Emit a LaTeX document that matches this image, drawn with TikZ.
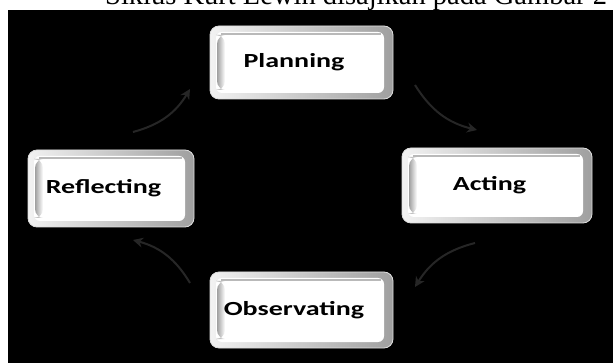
\documentclass[tikz,border=0pt]{standalone}
\usepackage{fontspec}
\setmainfont{Liberation Serif}
\newfontfamily\boxfont[FakeStretch=1.4]{Carlito}
\usetikzlibrary{arrows.meta}
\tikzset{
  btn/.style={rectangle, rounded corners=9pt, draw=gray!25, line width=0.8pt,
    left color=gray!10, right color=gray!75, inner sep=0pt,
    font=\boxfont\bfseries\fontsize{20}{24}\selectfont, text=black,
    path picture={
      \fill[white, rounded corners=6pt]
        ([shift={(6pt,-6pt)}]path picture bounding box.north west) rectangle
        ([shift={(-9pt,6pt)}]path picture bounding box.south east);
      \shade[left color=gray!75, right color=white]
        ([shift={(7pt,-9pt)}]path picture bounding box.north west) rectangle
        ([shift={(15pt,9pt)}]path picture bounding box.south west);
      \draw[gray!55, line width=1.5pt]
        ([shift={(11pt,-8pt)}]path picture bounding box.north west) --
        ([shift={(-12pt,-8pt)}]path picture bounding box.north east);
    }},
  cyc/.style={draw=black!85, line width=2pt, -{Stealth[length=10pt,width=10pt]}, bend right=22}
}
\newcommand{\shiftl}{\hspace*{15pt}}
\begin{document}
\begin{tikzpicture}[x=1pt,y=-1pt]
\useasboundingbox (0,0) rectangle (613,363);
\clip (0,0) rectangle (613,363);
\fill[white] (0,0) rectangle (613,363);
\fill[black] (8,10) rectangle (613,363);
\node[anchor=base west, font=\fontsize{28.5}{30}\selectfont, inner sep=0pt] (title) at (105,5) {Siklus Kurt Lewin disajikan pada Gambar 2};
\node[btn, minimum width=183pt, minimum height=73pt] (plan) at (301.5,62.5) {Planning\shiftl};
\node[btn, minimum width=166pt, minimum height=77pt] (refl) at (111,188.5) {Reflecting\shiftl};
\node[btn, minimum width=190pt, minimum height=75pt] (act) at (497,185.5) {Acting\shiftl};
\node[btn, minimum width=183pt, minimum height=76pt] (obs) at (301.5,310) {Observating\shiftl};
\coordinate (a1s) at (133,132); \coordinate (a1e) at (190,89);
\coordinate (a2s) at (415,85);  \coordinate (a2e) at (477,130);
\coordinate (a3s) at (475,243); \coordinate (a3e) at (415,287);
\coordinate (a4s) at (190,283); \coordinate (a4e) at (133,240);
\draw[cyc] (a1s) to (a1e);
\draw[cyc] (a2s) to (a2e);
\draw[cyc] (a3s) to (a3e);
\draw[cyc] (a4s) to (a4e);
\end{tikzpicture}
\end{document}
